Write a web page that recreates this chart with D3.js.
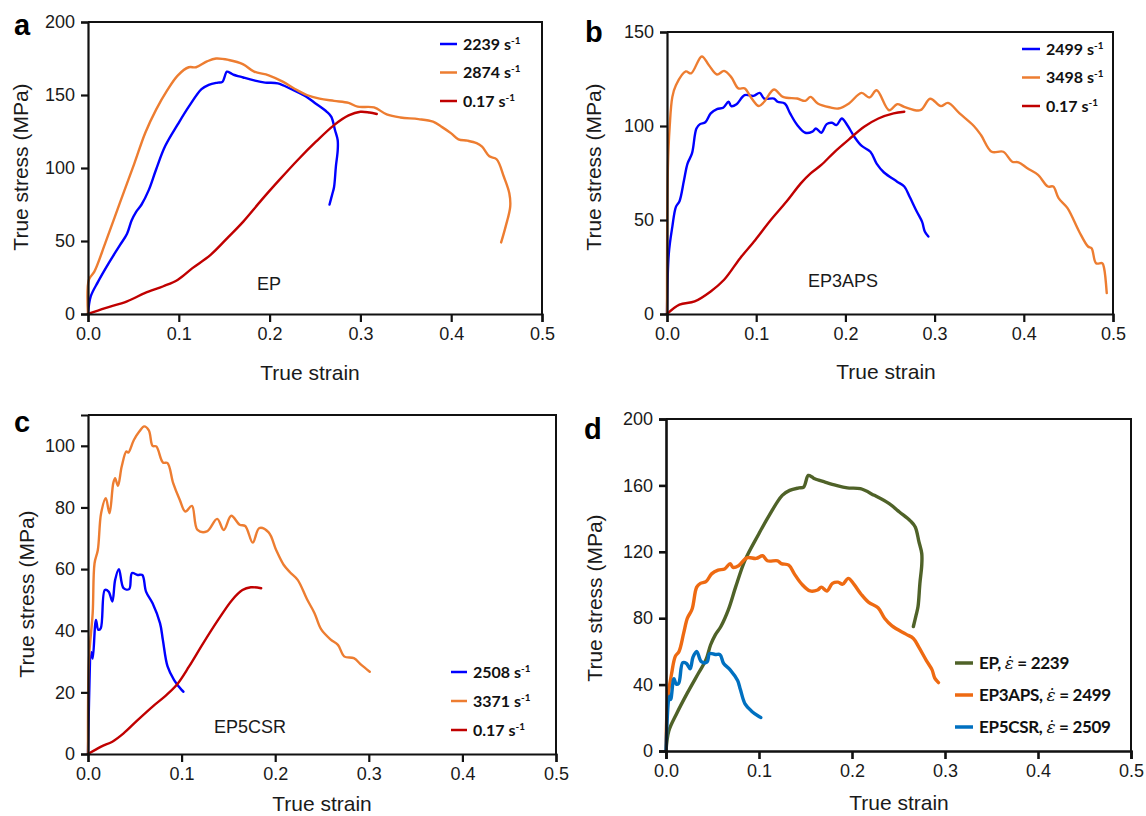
<!DOCTYPE html>
<html>
<head>
<meta charset="utf-8">
<script src="https://cdn.jsdelivr.net/npm/d3@7"></script>
<style>
  body { margin: 0; background: #fff; }
  .tick text { font-family: "Liberation Sans", Arial, sans-serif; font-size: 18px; fill: #1a1a1a; }
  .axisTitle { font-family: "Liberation Sans", Arial, sans-serif; font-size: 21px; fill: #1a1a1a; }
  .tag { font-family: "Liberation Sans", Arial, sans-serif; font-size: 29px; font-weight: bold; }
  .note { font-family: "Liberation Sans", Arial, sans-serif; font-size: 18px; fill: #1a1a1a; }
  .leg { font-family: Lato, "Open Sans", sans-serif; font-weight: bold; fill: #111; }
</style>
</head>
<body>
<script>
// ---- data (true strain, true stress MPa) ----
var strainTicks = [0, 0.1, 0.2, 0.3, 0.4, 0.5];

// panel a : EP
var epBlue2239 = [[0,0],[0.003,12],[0.011,22],[0.023,35],[0.035,47],[0.043,55],[0.048,64],[0.053,70],[0.059,75],[0.067,85],[0.075,99],[0.085,115],[0.099,130],[0.111,142],[0.125,154],[0.133,157],[0.143,158.5],[0.148,159],[0.153,166],[0.157,165],[0.16,164],[0.171,162],[0.183,160],[0.195,158.5],[0.209,158],[0.224,154],[0.24,149],[0.251,144],[0.263,138.5],[0.268,135],[0.272,126],[0.275,119],[0.275,112],[0.273,101],[0.271,87],[0.269,82],[0.266,75]];
var epOrange2874 = [[0,0],[0.001,23.5],[0.007,29],[0.019,48.5],[0.035,76],[0.051,103],[0.063,124],[0.075,140],[0.087,153],[0.099,163.5],[0.111,169],[0.119,169],[0.131,173],[0.141,175],[0.155,174],[0.171,171],[0.183,166],[0.199,163.5],[0.215,159],[0.227,154.5],[0.241,150],[0.255,147.5],[0.271,146],[0.287,144.6],[0.297,142],[0.315,141.5],[0.329,136.7],[0.344,134.6],[0.364,133.5],[0.38,131.7],[0.39,128],[0.4,123.7],[0.408,119.6],[0.418,118.7],[0.428,117],[0.434,114.6],[0.442,108],[0.45,106],[0.458,94],[0.464,82.7],[0.465,73.6],[0.46,60],[0.455,49]];
var epRed017 = [[0,0],[0.019,4],[0.043,8.7],[0.063,14.4],[0.083,19],[0.099,23.5],[0.115,31.4],[0.135,40.5],[0.155,53],[0.171,63.3],[0.191,78],[0.211,92],[0.231,105.5],[0.251,118],[0.271,129.4],[0.287,136],[0.3,138.5],[0.31,138],[0.318,137]];

// panel b : EP3APS
var apsBlue2499 = [[0,0],[0.002,32],[0.006,46.5],[0.01,57],[0.014,60],[0.019,71],[0.023,80],[0.028,85.4],[0.033,98.7],[0.037,101],[0.043,102],[0.049,106.7],[0.056,109],[0.063,109.7],[0.069,112.9],[0.072,110.6],[0.078,111.6],[0.087,116.4],[0.097,116],[0.104,117.6],[0.109,114.6],[0.12,114.6],[0.124,112.9],[0.132,112],[0.138,106.7],[0.146,100.5],[0.155,96.4],[0.163,97],[0.167,98.7],[0.173,96.4],[0.179,101],[0.185,101.7],[0.19,100.5],[0.196,104],[0.202,100.5],[0.21,94.3],[0.218,89.5],[0.228,86.3],[0.235,80],[0.243,75.4],[0.258,70.4],[0.266,67.8],[0.272,62.4],[0.28,54.5],[0.286,49],[0.289,43.9],[0.293,41.2]];
var apsOrange3498 = [[0,0],[0.001,78],[0.003,99.6],[0.006,115.5],[0.01,121.7],[0.021,129],[0.027,128],[0.039,137],[0.047,132.3],[0.056,127.4],[0.064,129.3],[0.072,126],[0.08,120],[0.087,120],[0.095,114.6],[0.103,110.6],[0.109,112.9],[0.12,119.4],[0.13,115.5],[0.146,114.6],[0.155,113.4],[0.161,115.5],[0.169,112],[0.183,109.9],[0.192,109.3],[0.204,112],[0.218,117.6],[0.227,115.2],[0.235,119],[0.249,108.4],[0.258,111.6],[0.266,110.2],[0.284,108.4],[0.295,114.5],[0.307,110.6],[0.315,112.3],[0.328,106.7],[0.344,100],[0.352,95.2],[0.364,86.3],[0.377,86.3],[0.387,81],[0.394,80.7],[0.404,77.5],[0.416,74],[0.427,67.8],[0.433,67.8],[0.439,61.6],[0.449,56.3],[0.462,43.9],[0.472,35.9],[0.476,35],[0.481,27],[0.488,27],[0.49,24.4],[0.493,11.1]];
var apsRed017 = [[0,0],[0.014,5],[0.031,6.7],[0.049,12],[0.064,18.2],[0.082,29.7],[0.099,39.4],[0.115,49.2],[0.134,59.8],[0.15,69.5],[0.161,74.8],[0.173,79.3],[0.188,86.3],[0.204,92.9],[0.221,99.6],[0.237,104],[0.254,106.7],[0.266,107.6]];

// panel c : EP5CSR
var csrBlue2508 = [[0,0],[0.0035,33],[0.005,31],[0.0085,43.5],[0.011,40.3],[0.0136,40.8],[0.018,53.2],[0.022,52.7],[0.026,49.5],[0.029,56.5],[0.033,60],[0.038,53.8],[0.044,53.5],[0.047,58.7],[0.053,58.1],[0.058,58.1],[0.062,52.7],[0.069,48.9],[0.077,42.4],[0.08,37],[0.085,28.4],[0.092,24],[0.1,20.8],[0.102,20.2]];
var csrOrange3371 = [[0,0],[0.001,30.5],[0.005,45.7],[0.007,61.9],[0.0105,66.2],[0.014,78.1],[0.019,83],[0.023,78.1],[0.027,87.9],[0.029,89.5],[0.032,87],[0.036,93.3],[0.041,98.2],[0.043,97.8],[0.049,101.9],[0.055,104.7],[0.06,106.3],[0.065,105],[0.069,100],[0.073,99.8],[0.08,94.6],[0.085,94.4],[0.091,87.9],[0.098,82.5],[0.104,78.7],[0.111,80.5],[0.117,72.7],[0.127,72.2],[0.138,76.3],[0.145,72.7],[0.153,77.3],[0.162,74.4],[0.168,74],[0.176,68.6],[0.183,73.3],[0.193,71.9],[0.201,66.2],[0.209,61.4],[0.216,58.9],[0.224,56.5],[0.234,50.2],[0.242,45.7],[0.249,40.5],[0.259,37.2],[0.267,35.4],[0.274,31.6],[0.284,31.1],[0.292,28.9],[0.301,26.7]];
var csrRed017 = [[0,0],[0.014,2.4],[0.026,4],[0.038,6.7],[0.053,11],[0.069,15.4],[0.084,19.2],[0.096,22.9],[0.108,28.4],[0.123,35.9],[0.139,43.5],[0.154,50],[0.165,53.2],[0.174,54.1],[0.185,53.8]];

// ---- panel layout ----
var svg = d3.select("body").append("svg")
  .attr("width", 1146)
  .attr("height", 816);

function drawPanel(p) {
  var x = d3.scaleLinear().domain([0, 0.5]).range([p.left, p.right]);
  var y = d3.scaleLinear().domain([0, p.ymax]).range([p.bottom, p.top]);
  var g = svg.append("g");

  // frame (top and right)
  g.append("path")
    .attr("d", `M${p.left},${p.top}H${p.right}V${p.bottom}`)
    .attr("fill", "none").attr("stroke", "#111").attr("stroke-width", 2);

  var line = d3.line()
    .x(d => x(d[0]))
    .y(d => y(d[1]))
    .curve(d3.curveCatmullRom.alpha(0.5));

  p.series.forEach(function(s) {
    g.append("path")
      .datum(s.data)
      .attr("d", line)
      .attr("fill", "none")
      .attr("stroke", s.color)
      .attr("stroke-width", p.lw)
      .attr("stroke-linejoin", "round")
      .attr("stroke-linecap", "round");
  });

  var xAxis = g.append("g")
    .attr("transform", `translate(0,${p.bottom})`)
    .call(d3.axisBottom(x).tickValues(strainTicks).tickFormat(d3.format(".1f")).tickSize(8).tickPadding(5));
  var yAxis = g.append("g")
    .attr("transform", `translate(${p.left},0)`)
    .call(d3.axisLeft(y).tickValues(p.yticks).tickSize(7).tickPadding(6));
  [xAxis, yAxis].forEach(function(a) {
    a.select(".domain").attr("stroke", "#111").attr("stroke-width", p.aw);
    a.selectAll(".tick line").attr("stroke", "#111").attr("stroke-width", p.aw);
  });

  g.append("text").attr("class", "tag").attr("x", p.tagX).attr("y", p.tagY).text(p.tag);

  g.append("text").attr("class", "axisTitle")
    .attr("text-anchor", "middle")
    .attr("x", p.xtX).attr("y", p.xtY)
    .text("True strain");
  g.append("text").attr("class", "axisTitle")
    .attr("text-anchor", "middle")
    .attr("transform", `translate(${p.ytX},${p.ytY}) rotate(-90)`)
    .attr("dy", "0.35em")
    .text("True stress (MPa)");

  if (p.note) {
    g.append("text").attr("class", "note")
      .attr("text-anchor", "middle")
      .attr("x", p.note.x).attr("y", p.note.y)
      .text(p.note.text);
  }

  // legend
  p.series.forEach(function(s, i) {
    var ly = p.leg.y + i * p.leg.dy;
    g.append("line")
      .attr("x1", p.leg.x).attr("x2", p.leg.x + p.leg.len)
      .attr("y1", ly).attr("y2", ly)
      .attr("stroke", s.color).attr("stroke-width", p.leg.lw);
    var t = g.append("text").attr("class", "leg")
      .attr("x", p.leg.x + p.leg.len + 6)
      .attr("y", ly + p.leg.fs * 0.35)
      .style("font-size", p.leg.fs + "px");
    if (p.leg.rate) {
      t.append("tspan").text(s.label + " s");
      t.append("tspan").attr("dy", -p.leg.fs * 0.38).style("font-size", (p.leg.fs * 0.62) + "px").text("-1");
    } else {
      t.style("letter-spacing", "-0.3px");
      t.append("tspan").text(s.label + ", ");
      t.append("tspan")
        .style("font-family", "'DejaVu Serif', serif")
        .style("font-style", "italic")
        .style("font-weight", "normal")
        .text("\u03B5\u0307");
      t.append("tspan").text(" = " + s.rate);
    }
  });
}

drawPanel({
  tag: "a", tagX: 14, tagY: 35,
  left: 88, right: 542, top: 22, bottom: 314, ymax: 200, yticks: [0, 50, 100, 150, 200],
  lw: 2.4, aw: 2.2,
  xtX: 310, xtY: 380, ytX: 21, ytY: 167,
  note: { text: "EP", x: 269, y: 290 },
  leg: { x: 440, len: 17, y: 44, dy: 28.5, fs: 16, lw: 2.5, rate: true },
  series: [
    { label: "2239", color: "#0000ff", data: epBlue2239 },
    { label: "2874", color: "#ed7d31", data: epOrange2874 },
    { label: "0.17", color: "#c00000", data: epRed017 }
  ]
});

drawPanel({
  tag: "b", tagX: 585, tagY: 42,
  left: 667, right: 1113, top: 32, bottom: 314, ymax: 150, yticks: [0, 50, 100, 150],
  lw: 2.4, aw: 2.2,
  xtX: 886, xtY: 379, ytX: 594, ytY: 167,
  note: { text: "EP3APS", x: 843, y: 287 },
  leg: { x: 1022, len: 18, y: 49, dy: 28.5, fs: 16, lw: 2.5, rate: true },
  series: [
    { label: "2499", color: "#0000ff", data: apsBlue2499 },
    { label: "3498", color: "#ed7d31", data: apsOrange3498 },
    { label: "0.17", color: "#c00000", data: apsRed017 }
  ]
});

drawPanel({
  tag: "c", tagX: 14, tagY: 432,
  left: 88, right: 556, top: 415, bottom: 754, ymax: 110, yticks: [0, 20, 40, 60, 80, 100],
  lw: 2.4, aw: 2.2,
  xtX: 322, xtY: 811, ytX: 27, ytY: 594,
  note: { text: "EP5CSR", x: 250, y: 733 },
  leg: { x: 451, len: 16, y: 672, dy: 29, fs: 16, lw: 2.5, rate: true },
  series: [
    { label: "2508", color: "#0000ff", data: csrBlue2508 },
    { label: "3371", color: "#ed7d31", data: csrOrange3371 },
    { label: "0.17", color: "#c00000", data: csrRed017 }
  ]
});

drawPanel({
  tag: "d", tagX: 584, tagY: 439,
  left: 666, right: 1131, top: 419, bottom: 751, ymax: 200, yticks: [0, 40, 80, 120, 160, 200],
  lw: 3.4, aw: 2.6,
  xtX: 899, xtY: 810, ytX: 595, ytY: 598,
  leg: { x: 955, len: 18, y: 663, dy: 32, fs: 17, lw: 3.5, rate: false },
  series: [
    { label: "EP", rate: 2239, color: "#4f6228", data: epBlue2239 },
    { label: "EP3APS", rate: 2499, color: "#ee6a12", data: apsBlue2499 },
    { label: "EP5CSR", rate: 2509, color: "#0070c0", data: csrBlue2508 }
  ]
});
</script>
</body>
</html>
